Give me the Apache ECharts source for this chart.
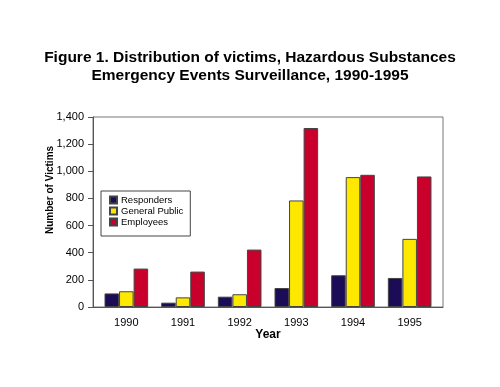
<!DOCTYPE html>
<html><head><meta charset="utf-8">
<script src="https://cdn.jsdelivr.net/npm/echarts@6/dist/echarts.min.js"></script>
<style>html,body{margin:0;padding:0;background:#fff}#c{width:500px;height:387px}</style>
</head><body><div id="c"></div>
<script>
const years = ['1990','1991','1992','1993','1994','1995'];
const responders = [100, 32, 76, 140, 234, 214];
const generalPublic = [116, 71, 94, 785, 957, 502];
const employees = [283, 261, 423, 1319, 974, 962];
const yTicks = [0, 200, 400, 600, 800, 1000, 1200, 1400];

const font = 'Liberation Sans, Arial, Helvetica, sans-serif';
const chart = echarts.init(document.getElementById('c'), null, {renderer:'canvas'});
const barStyle = c => ({color: c, borderColor: '#444', borderWidth: 1});
chart.setOption({
  animation: false,
  title: {
    text: 'Figure 1. Distribution of victims, Hazardous Substances\nEmergency Events Surveillance, 1990-1995',
    left: 'center', top: 44,
    textStyle: {fontFamily: font, fontSize: 15.5, fontWeight: 'bold', color: '#000', lineHeight: 18}
  },
  legend: {
    orient: 'vertical', left: 101, top: 191,
    icon: 'rect',
    itemWidth: 7, itemHeight: 7, itemGap: 1,
    padding: [4, 7, 9, 8],
    borderColor: '#444', borderWidth: 1, backgroundColor: '#fff',
    textStyle: {fontFamily: font, fontSize: 9.5, color: '#000', padding: [0,0,0,-1]},
    data: ['Responders','General Public','Employees']
  },
  grid: [
    {left: 98, right: 62, top: 117, bottom: 80},
    {left: 93, right: 57, top: 117, bottom: 80, show: true, borderColor: '#777', borderWidth: 1}
  ],
  xAxis: [{
    type: 'category', data: years, gridIndex: 0,
    name: 'Year', nameLocation: 'middle', nameGap: 22,
    nameTextStyle: {fontFamily: font, fontSize: 12, fontWeight: 'bold', color: '#000'},
    axisLine: {show: false},
    axisTick: {show: false},
    axisLabel: {fontFamily: font, fontSize: 11, color: '#000', margin: 10}
  }, {
    type: 'category', data: years, gridIndex: 1, show: true,
    axisLine: {lineStyle: {color: '#555'}}, axisTick: {show: false}, axisLabel: {show: false}
  }],
  yAxis: [{
    type: 'value', min: 0, max: 1400, interval: 200, gridIndex: 0, show: false
  }, {
    type: 'value', min: 0, max: 1400, interval: 200, gridIndex: 1,
    name: 'Number of Victims', nameLocation: 'middle', nameGap: 38, nameRotate: 90,
    nameMoveOverlap: false,
    nameTextStyle: {fontFamily: font, fontSize: 10, fontWeight: 'bold', color: '#000', padding: [0, 0, 0, 44]},
    axisLine: {show: true, lineStyle: {color: '#555'}},
    axisTick: {show: true, length: 5, lineStyle: {color: '#555'}},
    splitLine: {show: false},
    axisLabel: {fontFamily: font, fontSize: 11, color: '#000', margin: 9,
      formatter: v => yTicks.includes(v) ? v.toLocaleString('en-US') : ''}
  }],
  series: [
    {name: 'Responders', type: 'bar', data: responders, barGap: '0%', barCategoryGap: '23%', itemStyle: barStyle('#1c0b57')},
    {name: 'General Public', type: 'bar', data: generalPublic, itemStyle: barStyle('#ffe800')},
    {name: 'Employees', type: 'bar', data: employees, itemStyle: barStyle('#c8002b')}
  ]
});
</script></body></html>
